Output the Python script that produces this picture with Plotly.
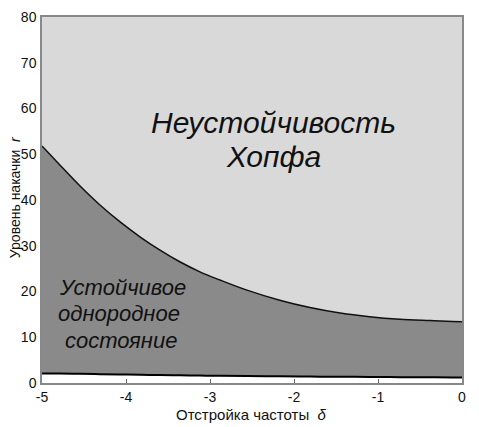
import plotly.graph_objects as go

# Data
delta = [-5.0, -4.79, -4.55, -4.31, -4.07, -3.83, -3.6, -3.36, -3.12, -2.88, -2.56,
         -2.17, -1.81, -1.45, -1.1, -0.74, -0.38, -0.11, 0.0]
r_hopf = [51.8, 47.7, 43.1, 38.9, 35.2, 31.9, 29.1, 26.5, 24.3, 22.5, 20.3,
          18.1, 16.5, 15.3, 14.5, 13.95, 13.65, 13.45, 13.4]
r_lower = [2.1, 2.05, 2.0, 1.93, 1.86, 1.8, 1.74, 1.68, 1.62, 1.57, 1.52,
           1.46, 1.41, 1.36, 1.32, 1.28, 1.24, 1.21, 1.2]

x_ticks = [-5, -4, -3, -2, -1, 0]
x_tick_text = ["-5", "-4", "-3", "-2", "-1", "0"]
y_ticks = [0, 10, 20, 30, 40, 50, 60, 70, 80]

FONT = "Liberation Sans, Arial, sans-serif"

fig = go.Figure()
fig.add_trace(go.Scatter(x=delta, y=r_lower, mode="lines", line=dict(color="black", width=2, shape="spline"),
                         fill="tozeroy", fillcolor="white", showlegend=False, hoverinfo="skip"))
fig.add_trace(go.Scatter(x=delta, y=r_hopf, mode="lines", line=dict(color="#111111", width=1.5, shape="spline"),
                         fill="tonexty", fillcolor="#8a8a8a", showlegend=False, hoverinfo="skip"))

big = [("Неустойчивость", -2.24, 57.0), ("Хопфа", -2.25, 49.5)]
for txt, x, y in big:
    fig.add_annotation(x=x, y=y, xref="x", yref="y", text="<i>" + txt + "</i>", showarrow=False,
                       font=dict(family=FONT, size=30, color="#111111"))
small = [("Устойчивое", -4.04, 20.8), ("однородное", -4.08, 15.2), ("состояние", -4.06, 9.4)]
for txt, x, y in small:
    fig.add_annotation(x=x, y=y, xref="x", yref="y", text="<i>" + txt + "</i>", showarrow=False,
                       font=dict(family=FONT, size=22, color="#111111"))

# axis titles
fig.add_annotation(x=-0.064, y=0.508, xref="paper", yref="paper", text="Уровень накачки  <i>r</i>",
                   textangle=-90, showarrow=False, xanchor="center", yanchor="middle",
                   font=dict(family=FONT, size=14, color="#111111"))
fig.add_annotation(x=0.498, y=-0.086, xref="paper", yref="paper", text="Отстройка частоты  <i>δ</i>",
                   showarrow=False, xanchor="center", yanchor="middle",
                   font=dict(family=FONT, size=15, color="#111111"))

fig.update_layout(
    width=471, height=419,
    margin=dict(l=34, r=17, t=9, b=44),
    paper_bgcolor="white",
    plot_bgcolor="#d9d9d9",
    font=dict(family=FONT, size=14, color="#111111"),
)
fig.update_xaxes(range=[-5, 0], tickvals=x_ticks, ticktext=x_tick_text, ticks="inside", ticklen=4, tickcolor="#666",
                 showgrid=False, zeroline=False, showline=True, linecolor="#888", linewidth=1.5, mirror=True,
                 automargin=False, tickfont=dict(size=14))
fig.update_yaxes(range=[0, 80], tickvals=y_ticks, ticks="", showgrid=False, zeroline=False,
                 showline=True, linecolor="#888", linewidth=1.5, mirror=True, automargin=False,
                 ticklabelstandoff=1, tickfont=dict(size=14))

fig.write_html("out.html")
